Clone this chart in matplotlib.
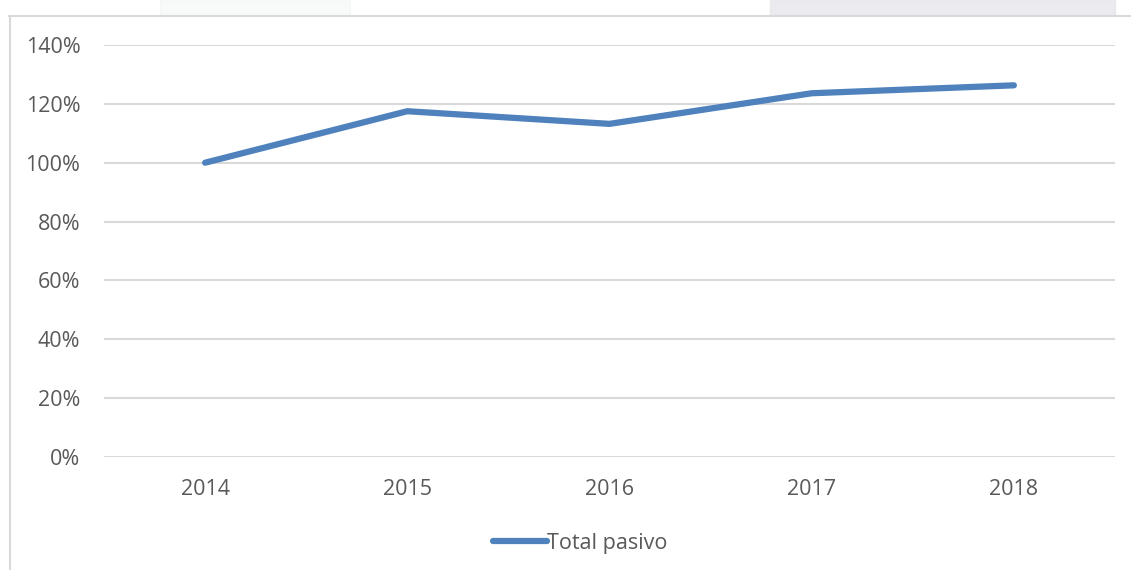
import matplotlib.pyplot as plt
from matplotlib.patches import Rectangle
from matplotlib.lines import Line2D
from matplotlib.ticker import FuncFormatter

plt.rcParams['font.family'] = ['Open Sans', 'DejaVu Sans']

# datos: total pasivo (base 2014 = 100%)
anios = ['2014', '2015', '2016', '2017', '2018']
total_pasivo = [1.00, 1.175, 1.132, 1.236, 1.263]

gris_texto = '#595959'
gris_linea = '#d9d9d9'
azul = '#4f81bd'

fig = plt.figure(figsize=(11.31, 5.70), dpi=100)
W, H = 1131, 570

# franja superior (fondo de la imagen original) y marco del gráfico
fig.patches.append(Rectangle((770 / W, 1 - 15 / H), 345 / W, 15 / H,
                             transform=fig.transFigure, color='#e6e5ea', alpha=0.8, zorder=0))
fig.patches.append(Rectangle((160 / W, 1 - 15 / H), 190 / W, 15 / H,
                             transform=fig.transFigure, color='#eef0f2', alpha=0.4, zorder=0))
fig.add_artist(Line2D([9 / W, 1], [1 - 16 / H, 1 - 16 / H], transform=fig.transFigure,
                      color=gris_linea, lw=1.5))
fig.add_artist(Line2D([10 / W, 10 / W], [0, 1 - 16 / H], transform=fig.transFigure,
                      color=gris_linea, lw=1.5))

ax = fig.add_axes([104 / W, 1 - 457 / H, (1115 - 104) / W, (457 - 45) / H])
x = range(len(anios))
ax.plot(x, total_pasivo, color=azul, lw=4.5, solid_capstyle='round',
        solid_joinstyle='round', label='Total pasivo', zorder=3)

ax.set_xlim(-0.5, len(anios) - 0.5)
ax.set_ylim(0, 1.4)
ax.set_yticks([i * 0.2 for i in range(8)])
ax.yaxis.set_major_formatter(FuncFormatter(lambda v, p: f'{v * 100:.0f}%'))
ax.set_xticks(list(x))
ax.set_xticklabels(anios)
ax.grid(axis='y', color=gris_linea, lw=1.5)
ax.set_axisbelow(True)
for s in ax.spines.values():
    s.set_visible(False)
ax.tick_params(length=0, labelsize=15.5, labelcolor=gris_texto)
ax.tick_params(axis='y', pad=17)
ax.tick_params(axis='x', pad=16)

fig.legend(loc='center', bbox_to_anchor=(580 / W, 1 - 543 / H), frameon=False,
           fontsize=15.5, labelcolor=gris_texto, handlelength=2.5, handletextpad=0.0)

fig.savefig('out.png', dpi=100)
